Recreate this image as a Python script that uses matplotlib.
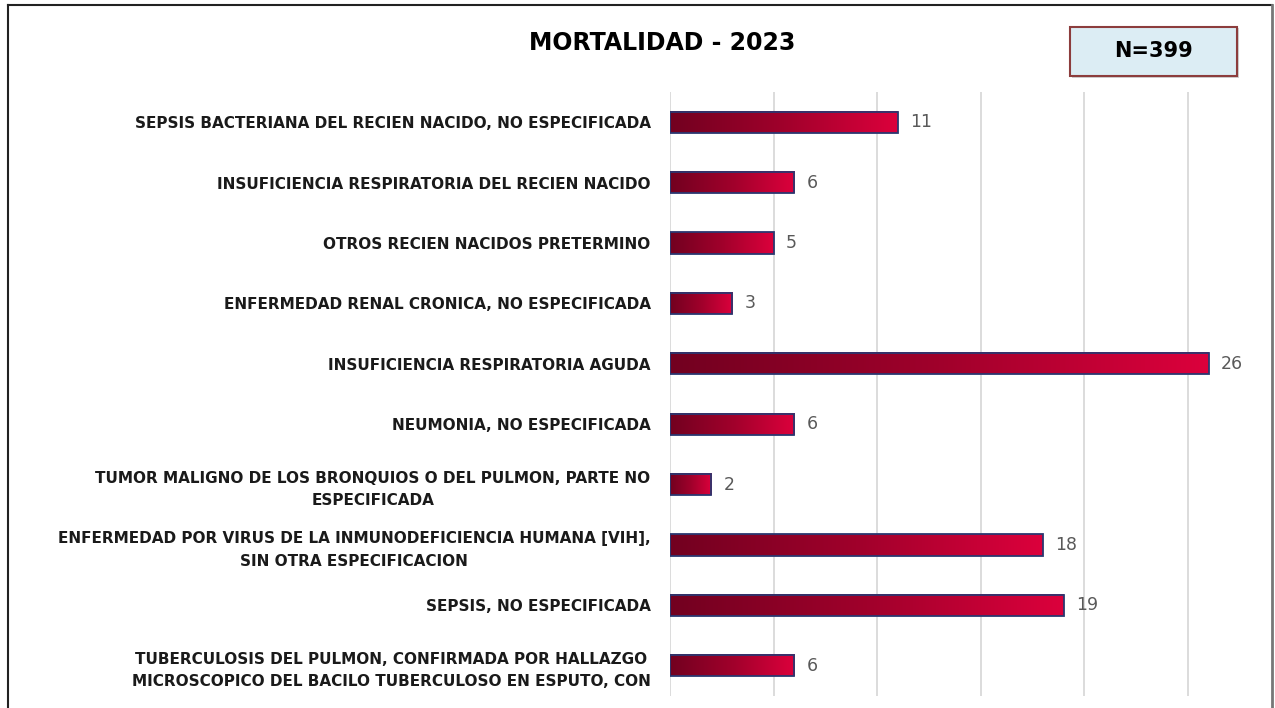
import numpy as np
import matplotlib
matplotlib.use("Agg")
import matplotlib.pyplot as plt
from matplotlib.colors import LinearSegmentedColormap
from matplotlib.patches import Rectangle

causes = [
    "SEPSIS BACTERIANA DEL RECIEN NACIDO, NO ESPECIFICADA",
    "INSUFICIENCIA RESPIRATORIA DEL RECIEN NACIDO",
    "OTROS RECIEN NACIDOS PRETERMINO",
    "ENFERMEDAD RENAL CRONICA, NO ESPECIFICADA",
    "INSUFICIENCIA RESPIRATORIA AGUDA",
    "NEUMONIA, NO ESPECIFICADA",
    "TUMOR MALIGNO DE LOS BRONQUIOS O DEL PULMON, PARTE NO\nESPECIFICADA",
    "ENFERMEDAD POR VIRUS DE LA INMUNODEFICIENCIA HUMANA [VIH],\nSIN OTRA ESPECIFICACION",
    "SEPSIS, NO ESPECIFICADA",
    "TUBERCULOSIS DEL PULMON, CONFIRMADA POR HALLAZGO\nMICROSCOPICO DEL BACILO TUBERCULOSO EN ESPUTO, CON",
]
deaths = [11, 6, 5, 3, 26, 6, 2, 18, 19, 6]
total_n = 399
title = "MORTALIDAD - 2023"

fonts = ["Liberation Sans Narrow", "DejaVu Sans Condensed", "DejaVu Sans"]

fig = plt.figure(figsize=(12.75, 7.08), dpi=100)
ax = fig.add_axes([670 / 1275, 1 - 696 / 708, 580 / 1275, 604 / 708])

ypos = np.arange(len(causes))
bar_h = 0.35
grad = LinearSegmentedColormap.from_list("g", ["#720020", "#a0002b", "#dc003c"])
img = np.linspace(0, 1, 256).reshape(1, -1)

bars = ax.barh(ypos, deaths, height=bar_h, facecolor="none",
               edgecolor="#2b3770", linewidth=1.3, zorder=4)
for b, v in zip(bars, deaths):
    y0 = b.get_y()
    ax.imshow(img, cmap=grad, aspect="auto", zorder=3,
              extent=[0, v, y0 + bar_h, y0], interpolation="bicubic")
    ax.text(v + 0.6, b.get_y() + bar_h / 2, str(v), va="center", ha="left",
            fontsize=12.5, color="#595959", family=fonts)

ax.set_xlim(0, 28)
ax.set_ylim(len(causes) - 0.5, -0.5)
ax.set_xticks([0, 5, 10, 15, 20, 25])
ax.grid(axis="x", color="#d9d9d9", linewidth=1.3, zorder=0)
ax.set_axisbelow(True)
ax.tick_params(axis="x", length=0, labelbottom=False)
ax.tick_params(axis="y", length=0, pad=14)
ax.set_yticks(ypos)
ax.set_yticklabels(causes, fontsize=11, fontweight="bold", family=fonts,
                   multialignment="center", color="#1a1a1a", linespacing=1.6)
for s in ax.spines.values():
    s.set_visible(False)

fig.text(662 / 1275, 1 - 43 / 708, title, ha="center", va="center",
         fontsize=17, fontweight="bold", family=fonts)

# N box
fig.patches.append(Rectangle((1072 / 1275, 1 - 78 / 708), 167 / 1275, 50 / 708,
                             transform=fig.transFigure, facecolor="#8a8a8a",
                             edgecolor="none", alpha=0.4))
fig.patches.append(Rectangle((1070 / 1275, 1 - 76 / 708), 167 / 1275, 49 / 708,
                             transform=fig.transFigure, facecolor="#dcedf4",
                             edgecolor="#8c3d3d", linewidth=1.5))
fig.text(1153 / 1275, 1 - 51 / 708, f"N={total_n}", ha="center", va="center",
         fontsize=15, fontweight="bold", family=fonts)

# outer frame
fig.add_artist(plt.Line2D([8 / 1275, 8 / 1275], [0, 1 - 5 / 708],
                          transform=fig.transFigure, color="#222222", lw=1.5))
fig.add_artist(plt.Line2D([8 / 1275, 1272 / 1275], [1 - 5 / 708, 1 - 5 / 708],
                          transform=fig.transFigure, color="#222222", lw=1.5))
fig.add_artist(plt.Line2D([1272 / 1275, 1272 / 1275], [0, 1 - 5 / 708],
                          transform=fig.transFigure, color="#777777", lw=2))

fig.savefig("out.png", dpi=100)
